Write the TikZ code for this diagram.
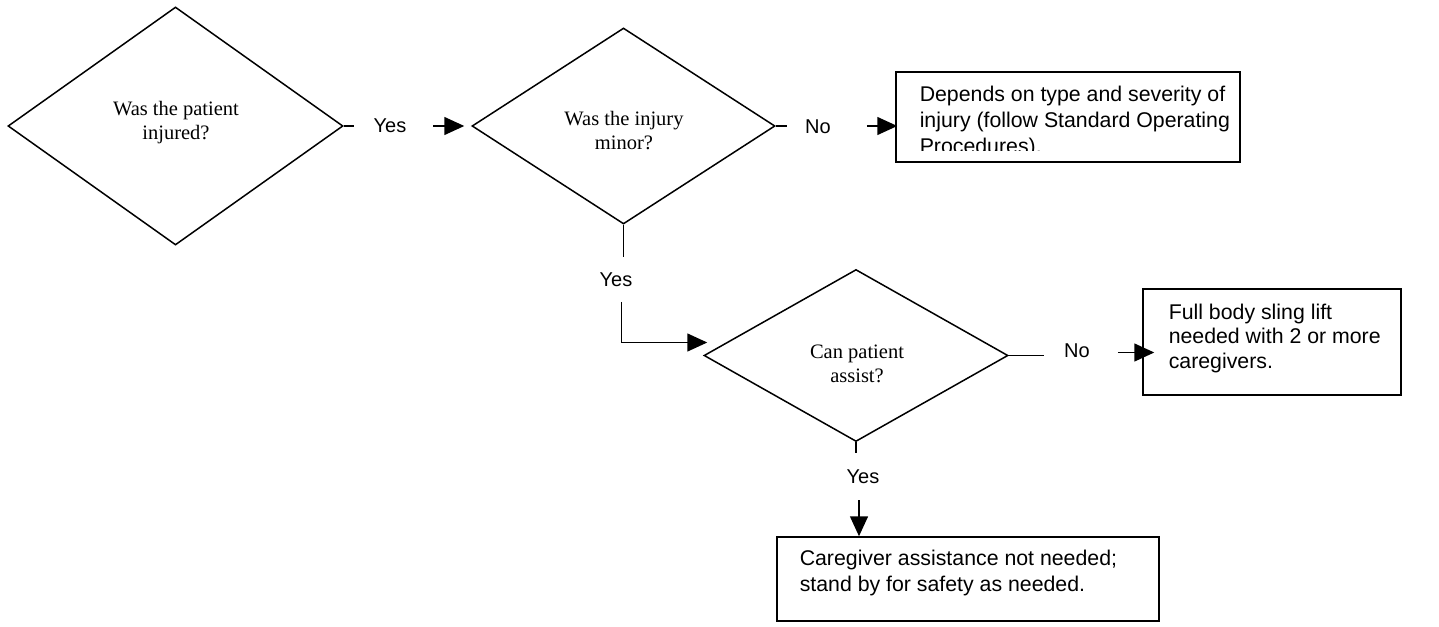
\documentclass[tikz,border=0pt]{standalone}
\usepackage{fontspec}
\setmainfont{Liberation Serif}
\newfontfamily\arial{Liberation Sans}
\usetikzlibrary{shapes.geometric,arrows.meta,calc}
\begin{document}
\begin{tikzpicture}[x=1pt,y=-1pt,
  line width=1.5pt,
  dia/.style={draw,diamond,inner sep=0pt},
  qtext/.style={font=\fontsize{20.5}{24}\selectfont,align=center,inner sep=0pt},
  box/.style={draw,rectangle,inner sep=0pt},
  btext/.style={font=\arial\fontsize{21.3}{26}\selectfont,align=left,inner sep=0pt,anchor=west},
  lab/.style={font=\arial\fontsize{20}{24}\selectfont,inner sep=0pt},
  arr/.style={-{Triangle[length=20pt,width=18pt]}},
]
\useasboundingbox (0,0) rectangle (1439,626);

% diamonds
\node[dia,minimum width=335pt,minimum height=238pt] (d1) at (175.5,126) {};
\node[qtext] (q1) at (176,123) {Was the patient\\injured?};
\node[dia,minimum width=303pt,minimum height=196pt] (d2) at (623.5,126) {};
\node[qtext] (q2) at (624,131) {Was the injury\\minor?};
\node[dia,minimum width=304pt,minimum height=172pt] (d3) at (856,355.5) {};
\node[qtext] (q3) at (857,364) {Can patient\\assist?};

% boxes
\node[box,minimum width=344pt,minimum height=90pt] (b1) at (1068,117) {};
\begin{scope}
\clip (896,72) rectangle (1240,150);
\node[btext] (t1) at (919,121.75) {Depends on type and severity of\\injury (follow Standard Operating\\Procedures).};
\end{scope}
\node[box,minimum width=258pt,minimum height=106pt] (b2) at (1272,342) {};
\node[btext,font=\arial\fontsize{21.3}{24.5}\selectfont] (t2) at (1168,338) {Full body sling lift\\needed with 2 or more\\caregivers.};
\node[box,minimum width=382pt,minimum height=84pt] (b3) at (968,579) {};
\node[btext,font=\arial\fontsize{21.3}{26.5}\selectfont] (t3) at (799,573) {Caregiver assistance not needed;\\stand by for safety as needed.};

% labels
\node[lab] (l1) at (390,126) {Yes};
\node[lab] (l2) at (818,127) {No};
\node[lab] (l3) at (616,280) {Yes};
\node[lab] (l4) at (1077,351) {No};
\node[lab] (l5) at (863,477) {Yes};

% connectors
\draw (d1.east) -- ++(10,0);
\draw[arr] ($(d2.west)+(-38,0)$) -- ($(d2.west)+(-7,0)$);

\draw (d2.east) -- ++(11,0);
\draw[arr] ($(d2.east)+(91,0)$) -- ($(b1.west|-d2.east)+(2,0)$);

\draw (d2.south) -- ++(0,32);
\draw[arr] ($(d2.south)+(-2,77)$) |- ($(d3.west)+(4,-13)$);

\draw (d3.east) -- ++(35,0);
\draw[arr] ($(d3.east)+(109,-3)$) -- ($(b2.west|-d3.east)+(12,-3)$);

\draw (d3.south) -- ++(0,11);
\draw[arr] ($(d3.south)+(3,58)$) -- ($(d3.south|-b3.north)+(3,0)$);
\end{tikzpicture}
\end{document}
